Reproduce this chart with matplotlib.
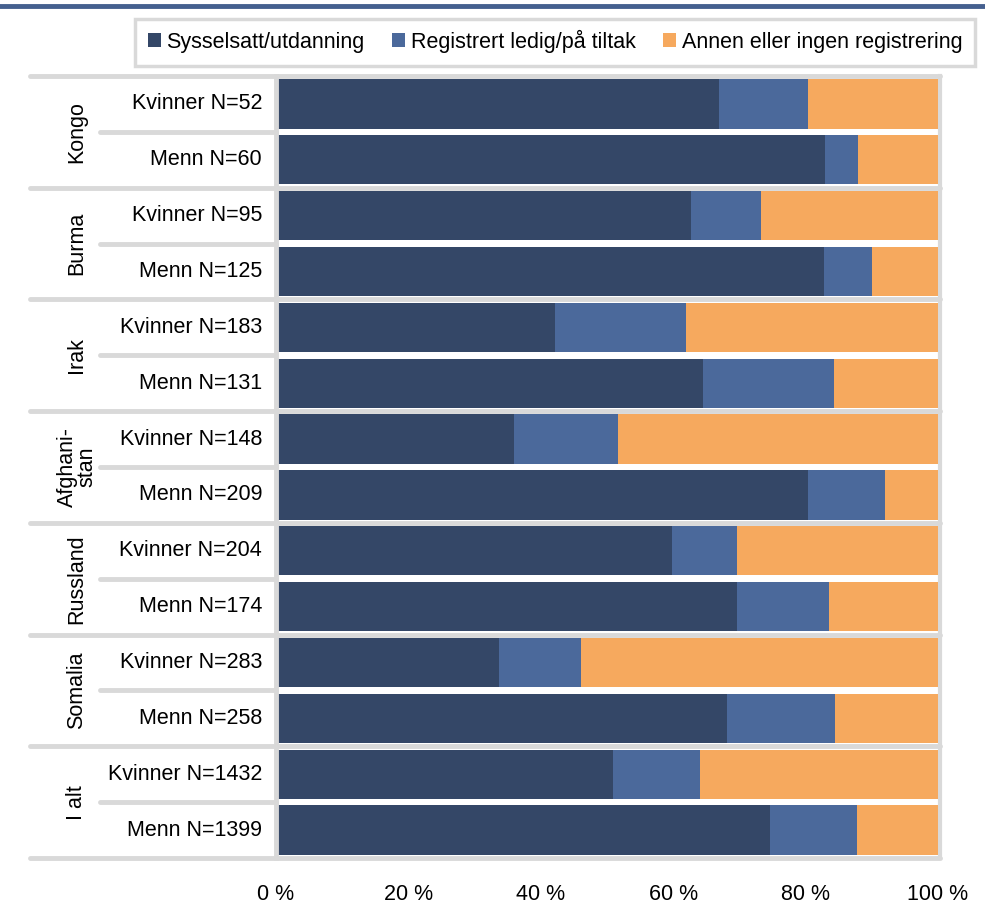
import matplotlib.pyplot as plt
import matplotlib.transforms as mtransforms
from matplotlib.patches import Rectangle
import numpy as np

plt.rcParams['font.family'] = ['Liberation Sans', 'DejaVu Sans']

# data (percent of each group)
groups = ["Kongo", "Burma", "Irak", "Afghani-\nstan", "Russland", "Somalia", "I alt"]
row_labels = [
    "Kvinner N=52", "Menn N=60",
    "Kvinner N=95", "Menn N=125",
    "Kvinner N=183", "Menn N=131",
    "Kvinner N=148", "Menn N=209",
    "Kvinner N=204", "Menn N=174",
    "Kvinner N=283", "Menn N=258",
    "Kvinner N=1432", "Menn N=1399",
]
employed = [66.9, 82.9, 62.7, 82.8, 42.1, 64.5, 36.0, 80.4, 59.8, 69.6, 33.7, 68.1, 50.9, 74.6]
registered = [13.5, 5.0, 10.6, 7.2, 19.8, 19.8, 15.7, 11.6, 9.8, 13.9, 12.4, 16.3, 13.1, 13.2]
other = [100 - e - r for e, r in zip(employed, registered)]

series_names = ["Sysselsatt/utdanning", "Registrert ledig/på tiltak", "Annen eller ingen registrering"]
colors = ["#344767", "#4b699b", "#f6a95e"]
grid_gray = "#d9d9d9"
fs = 15.5

fig = plt.figure(figsize=(9.85, 9.15), dpi=100)
W, H = 985, 915
ax = fig.add_axes([276 / W, 1 - 858 / H, (938 - 276) / W, (858 - 76) / H])

y = np.arange(len(row_labels))
left = np.zeros(len(y))
for vals, c, name in zip([employed, registered, other], colors, series_names):
    ax.barh(y, vals, left=left, height=0.88, color=c, label=name, edgecolor="none")
    left += np.array(vals)

ax.set_xlim(0, 100)
ax.set_ylim(len(y) - 0.5, -0.5)
ax.set_xticks([0, 20, 40, 60, 80, 100])
ax.set_xticklabels([f"{v} %" for v in [0, 20, 40, 60, 80, 100]], fontsize=fs)
ax.tick_params(axis="x", length=0, pad=19)
ax.set_yticks([])
for s in ["top", "right", "bottom"]:
    ax.spines[s].set_visible(False)
ax.spines["left"].set_color(grid_gray)
ax.spines["left"].set_linewidth(3.5)

# right wall shadow
ax.plot([100.3, 100.3], [-0.5, len(y) - 0.5], color=grid_gray, lw=3, clip_on=False, zorder=0)

# row labels and separators
trans = mtransforms.blended_transform_factory(ax.transAxes, ax.transData)
for i, lab in enumerate(row_labels):
    ax.text(-0.021, i, lab, transform=trans, ha="right", va="center", fontsize=fs)

x_group = (30 - 276) / 662
x_sub = (100 - 276) / 662
for g in range(len(groups) + 1):
    yy = 2 * g - 0.5
    ax.plot([x_group, 1.003], [yy, yy], transform=trans, color=grid_gray, lw=3.5,
            clip_on=False, zorder=0, solid_capstyle="round")
    if g < len(groups):
        ax.plot([x_sub, 0], [yy + 1, yy + 1], transform=trans, color=grid_gray, lw=3.5,
                clip_on=False, zorder=0, solid_capstyle="round")
        ax.text((77 - 276) / 662, 2 * g + 0.5, groups[g], transform=trans, rotation=90,
                ha="center", va="center", fontsize=fs, linespacing=0.9)

# top rule
fig.add_artist(plt.Line2D([0, 1], [1 - 6 / H, 1 - 6 / H], color="#45608f", lw=3.5))

# legend box
fig.add_artist(Rectangle((135 / W, 1 - 66 / H), (975 - 135) / W, 47 / H, transform=fig.transFigure,
                         facecolor="white", edgecolor=grid_gray, lw=2.5))
leg = fig.legend(loc="center", bbox_to_anchor=((135 + 975) / 2 / W, 1 - 41 / H), ncol=3,
                 frameon=False, fontsize=fs, handlelength=0.6, handleheight=0.6,
                 handletextpad=0.25, columnspacing=1.3)

fig.savefig("out.png", dpi=100)
